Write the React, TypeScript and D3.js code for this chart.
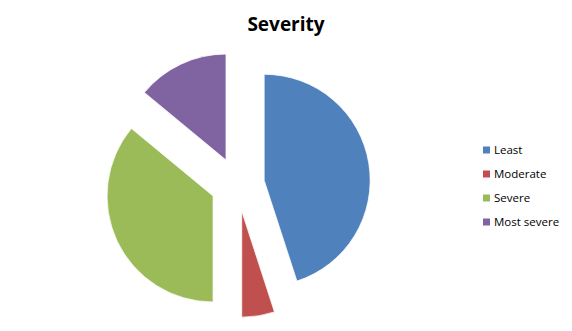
import React from "react";
import * as d3 from "d3";

const categories = ["Least", "Moderate", "Severe", "Most severe"];
const values = [45, 5, 36, 14];
const colors = ["#4F81BD", "#C0504D", "#9BBB59", "#8064A2"];

const W = 572;
const H = 331;
const cx = 237.5;
const cy = 184.5;
const radius = 106;
const explode = 27;

export default function App() {
  const pie = d3.pie<number>().sort(null).value((d) => d);
  const arcs = pie(values);
  const arcGen = d3.arc<d3.PieArcDatum<number>>().innerRadius(0).outerRadius(radius);
  const legendY = d3.scalePoint<string>().domain(categories).range([150, 222]);

  return (
    <svg width={W} height={H} style={{ position: "absolute", left: 0, top: 0, fontFamily: "'Open Sans', sans-serif" }}>
      <rect x={0} y={0} width={W} height={H} fill="#fff" />
      <text x={286} y={31} textAnchor="middle" fontSize={19} fontWeight="bold" fill="#000">
        Severity
      </text>
      <g transform={`translate(${cx},${cy})`}>
        {arcs.map((a, i) => {
          const m = (a.startAngle + a.endAngle) / 2;
          const dx = Math.sin(m) * explode;
          const dy = -Math.cos(m) * explode;
          return (
            <path
              key={categories[i]}
              d={arcGen(a) || ""}
              transform={`translate(${dx},${dy})`}
              fill={colors[i]}
              stroke="#fff"
              strokeWidth={0.75}
            />
          );
        })}
      </g>
      {categories.map((c, i) => (
        <g key={c} transform={`translate(483,${legendY(c)})`}>
          <rect x={0} y={-3.5} width={7} height={7} fill={colors[i]} />
          <text x={11} y={4} fontSize={11.5} fill="#000">
            {c}
          </text>
        </g>
      ))}
    </svg>
  );
}
